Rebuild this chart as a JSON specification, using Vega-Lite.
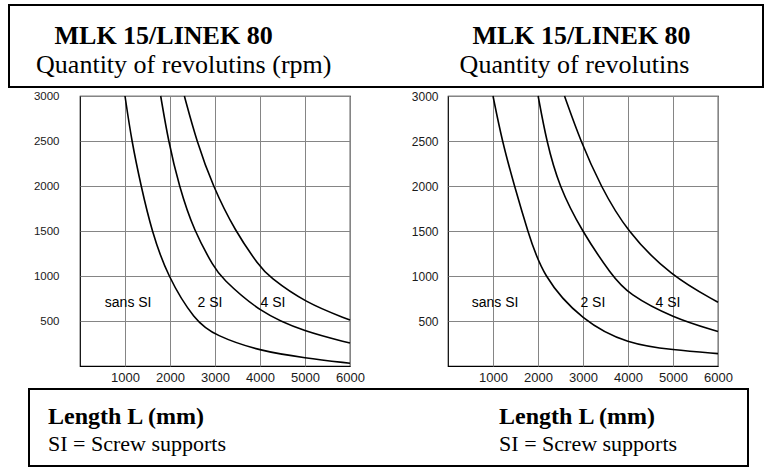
{
  "$schema": "https://vega.github.io/schema/vega-lite/v6.json",
  "padding": {"left": 8, "top": 4, "right": 0, "bottom": 0},
  "background": "white",
  "config": {
    "font": "Liberation Sans",
    "view": {"stroke": null},
    "axis": {"labelFont": "Liberation Sans", "labelColor": "#1a1a1a"}
  },
  "datasets": {
    "spacer": [{"k": 0}],
    "headTitles": [
      {"panel": "A", "line": 1, "text": "MLK 15/LINEK 80"},
      {"panel": "B", "line": 1, "text": "MLK 15/LINEK 80"}
    ],
    "headSubs": [
      {"panel": "A", "line": 2, "text": "Quantity of revolutins (rpm)"},
      {"panel": "B", "line": 2, "text": "Quantity of revolutins"}
    ],
    "footTitles": [
      {"panel": "A", "line": 1, "text": "Length L (mm)"},
      {"panel": "B", "line": 1, "text": "Length L (mm)"}
    ],
    "footSubs": [
      {"panel": "A", "line": 2, "text": "SI = Screw supports"},
      {"panel": "B", "line": 2, "text": "SI = Screw supports"}
    ],
    "curvesA": [
      {"series": "sans SI", "L": 1000, "rpm": 3000},
      {"series": "sans SI", "L": 1148, "rpm": 2500},
      {"series": "sans SI", "L": 1356, "rpm": 2000},
      {"series": "sans SI", "L": 1593, "rpm": 1500},
      {"series": "sans SI", "L": 1941, "rpm": 1000},
      {"series": "sans SI", "L": 2556, "rpm": 500},
      {"series": "sans SI", "L": 3000, "rpm": 340},
      {"series": "sans SI", "L": 4000, "rpm": 165},
      {"series": "sans SI", "L": 5000, "rpm": 90},
      {"series": "sans SI", "L": 6000, "rpm": 30},
      {"series": "2 SI", "L": 1793, "rpm": 3000},
      {"series": "2 SI", "L": 1963, "rpm": 2500},
      {"series": "2 SI", "L": 2200, "rpm": 2000},
      {"series": "2 SI", "L": 2530, "rpm": 1500},
      {"series": "2 SI", "L": 3000, "rpm": 1080},
      {"series": "2 SI", "L": 3110, "rpm": 1000},
      {"series": "2 SI", "L": 4000, "rpm": 590},
      {"series": "2 SI", "L": 5000, "rpm": 380},
      {"series": "2 SI", "L": 6000, "rpm": 255},
      {"series": "4 SI", "L": 2319, "rpm": 3000},
      {"series": "4 SI", "L": 2590, "rpm": 2500},
      {"series": "4 SI", "L": 2950, "rpm": 2000},
      {"series": "4 SI", "L": 3444, "rpm": 1500},
      {"series": "4 SI", "L": 4000, "rpm": 1100},
      {"series": "4 SI", "L": 4185, "rpm": 1000},
      {"series": "4 SI", "L": 5000, "rpm": 703},
      {"series": "4 SI", "L": 6000, "rpm": 510}
    ],
    "curvesB": [
      {"series": "sans SI", "L": 1000, "rpm": 3000},
      {"series": "sans SI", "L": 1202, "rpm": 2500},
      {"series": "sans SI", "L": 1476, "rpm": 2000},
      {"series": "sans SI", "L": 1770, "rpm": 1500},
      {"series": "sans SI", "L": 2095, "rpm": 1000},
      {"series": "sans SI", "L": 2982, "rpm": 500},
      {"series": "sans SI", "L": 4000, "rpm": 243},
      {"series": "sans SI", "L": 5000, "rpm": 179},
      {"series": "sans SI", "L": 6000, "rpm": 138},
      {"series": "2 SI", "L": 2003, "rpm": 3000},
      {"series": "2 SI", "L": 2188, "rpm": 2500},
      {"series": "2 SI", "L": 2463, "rpm": 2000},
      {"series": "2 SI", "L": 2970, "rpm": 1500},
      {"series": "2 SI", "L": 3650, "rpm": 1000},
      {"series": "2 SI", "L": 4000, "rpm": 802},
      {"series": "2 SI", "L": 5000, "rpm": 534},
      {"series": "2 SI", "L": 6000, "rpm": 384},
      {"series": "4 SI", "L": 2589, "rpm": 3000},
      {"series": "4 SI", "L": 2945, "rpm": 2500},
      {"series": "4 SI", "L": 3390, "rpm": 2000},
      {"series": "4 SI", "L": 3965, "rpm": 1500},
      {"series": "4 SI", "L": 4950, "rpm": 1000},
      {"series": "4 SI", "L": 6000, "rpm": 709}
    ],
    "labelsA": [
      {"label": "sans SI", "L": 1070, "rpm": 700},
      {"label": "2 SI", "L": 2890, "rpm": 700},
      {"label": "4 SI", "L": 4290, "rpm": 700}
    ],
    "labelsB": [
      {"label": "sans SI", "L": 1046, "rpm": 697},
      {"label": "2 SI", "L": 3220, "rpm": 697},
      {"label": "4 SI", "L": 4889, "rpm": 697}
    ]
  },
  "spacing": 1,
  "vconcat": [
    {
      "width": 754,
      "height": 82,
      "view": {"stroke": "black", "strokeWidth": 2},
      "layer": [
        {
          "data": {"name": "headTitles"},
          "mark": {"type": "text", "font": "Liberation Serif", "fontSize": 26, "fontWeight": "bold", "baseline": "alphabetic", "align": "center", "color": "black"},
          "encoding": {
            "x": {"field": "panel", "type": "nominal", "scale": {"type": "point", "padding": 0.402, "align": 0.46}, "axis": null},
            "y": {"field": "line", "type": "ordinal", "scale": {"type": "point", "padding": 0.914, "align": 0.736}, "axis": null},
            "text": {"field": "text"}
          }
        },
        {
          "data": {"name": "headSubs"},
          "mark": {"type": "text", "font": "Liberation Serif", "fontSize": 26, "baseline": "alphabetic", "align": "center", "color": "black"},
          "encoding": {
            "x": {"field": "panel", "type": "nominal", "scale": {"type": "point", "padding": 0.465, "align": 0.481}, "axis": null},
            "y": {"field": "line", "type": "ordinal", "scale": {"type": "point", "padding": 0.914, "align": 0.736}, "axis": null},
            "text": {"field": "text"}
          }
        }
      ],
      "resolve": {"scale": {"x": "independent"}}
    },
    {
      "spacing": 3,
      "vconcat": [
        {
          "spacing": 10,
          "hconcat": [
            {
              "width": 1,
              "height": 270,
              "data": {"name": "spacer"},
              "mark": {"type": "text", "text": ""},
              "encoding": {}
            },
            {
              "width": 270,
              "height": 270,
              "view": {"stroke": "black", "strokeWidth": 1.2},
              "layer": [
                {
                  "data": {"name": "curvesA"},
                  "mark": {"type": "line", "interpolate": "basis", "color": "black", "strokeWidth": 1.6},
                  "encoding": {
                    "x": {"field": "L", "type": "quantitative", "scale": {"domain": [0, 6000], "nice": false},
                      "axis": {"values": [1000, 2000, 3000, 4000, 5000, 6000], "format": "d", "grid": true, "gridColor": "#858585", "domain": false, "ticks": false, "labelFlush": false, "labelOverlap": false, "labelPadding": 5, "labelFontSize": 13, "title": null}},
                    "y": {"field": "rpm", "type": "quantitative", "scale": {"domain": [0, 3000], "nice": false},
                      "axis": {"values": [500, 1000, 1500, 2000, 2500, 3000], "format": "d", "grid": true, "gridColor": "#858585", "domain": false, "ticks": false, "labelPadding": 21, "labelFontSize": 11.5, "title": " ", "titleFontSize": 1, "titlePadding": 0, "minExtent": 58}},
                    "detail": {"field": "series"}
                  }
                },
                {
                  "data": {"name": "labelsA"},
                  "mark": {"type": "text", "fontSize": 14, "font": "Liberation Sans", "color": "black"},
                  "encoding": {
                    "x": {"field": "L", "type": "quantitative"},
                    "y": {"field": "rpm", "type": "quantitative"},
                    "text": {"field": "label"}
                  }
                }
              ]
            },
            {
              "width": 270,
              "height": 270,
              "view": {"stroke": "black", "strokeWidth": 1.2},
              "layer": [
                {
                  "data": {"name": "curvesB"},
                  "mark": {"type": "line", "interpolate": "basis", "color": "black", "strokeWidth": 1.6},
                  "encoding": {
                    "x": {"field": "L", "type": "quantitative", "scale": {"domain": [0, 6000], "nice": false},
                      "axis": {"values": [1000, 2000, 3000, 4000, 5000, 6000], "format": "d", "grid": true, "gridColor": "#858585", "domain": false, "ticks": false, "labelFlush": false, "labelOverlap": false, "labelPadding": 5, "labelFontSize": 13, "title": null}},
                    "y": {"field": "rpm", "type": "quantitative", "scale": {"domain": [0, 3000], "nice": false},
                      "axis": {"values": [500, 1000, 1500, 2000, 2500, 3000], "format": "d", "grid": true, "gridColor": "#858585", "domain": false, "ticks": false, "labelPadding": 10, "labelFontSize": 12, "title": " ", "titleFontSize": 1, "titlePadding": 0, "minExtent": 70}},
                    "detail": {"field": "series"}
                  }
                },
                {
                  "data": {"name": "labelsB"},
                  "mark": {"type": "text", "fontSize": 14, "font": "Liberation Sans", "color": "black"},
                  "encoding": {
                    "x": {"field": "L", "type": "quantitative"},
                    "y": {"field": "rpm", "type": "quantitative"},
                    "text": {"field": "label"}
                  }
                }
              ]
            }
          ]
        },
        {
          "spacing": 18,
          "hconcat": [
            {
              "width": 1,
              "height": 77,
              "data": {"name": "spacer"},
              "mark": {"type": "text", "text": ""},
              "encoding": {}
            },
            {
              "width": 719,
              "height": 77,
              "view": {"stroke": "black", "strokeWidth": 2},
              "layer": [
                {
                  "data": {"name": "footTitles"},
                  "mark": {"type": "text", "font": "Liberation Serif", "fontSize": 24, "fontWeight": "bold", "baseline": "alphabetic", "align": "left", "color": "black"},
                  "encoding": {
                    "x": {"field": "panel", "type": "nominal", "scale": {"type": "point", "padding": 0.297, "align": 0.071}, "axis": null},
                    "y": {"field": "line", "type": "ordinal", "scale": {"type": "point", "padding": 0.926, "align": 0.7}, "axis": null},
                    "text": {"field": "text"}
                  }
                },
                {
                  "data": {"name": "footSubs"},
                  "mark": {"type": "text", "font": "Liberation Serif", "fontSize": 22, "baseline": "alphabetic", "align": "left", "color": "black"},
                  "encoding": {
                    "x": {"field": "panel", "type": "nominal", "scale": {"type": "point", "padding": 0.297, "align": 0.071}, "axis": null},
                    "y": {"field": "line", "type": "ordinal", "scale": {"type": "point", "padding": 0.926, "align": 0.7}, "axis": null},
                    "text": {"field": "text"}
                  }
                }
              ]
            }
          ]
        }
      ]
    }
  ]
}
